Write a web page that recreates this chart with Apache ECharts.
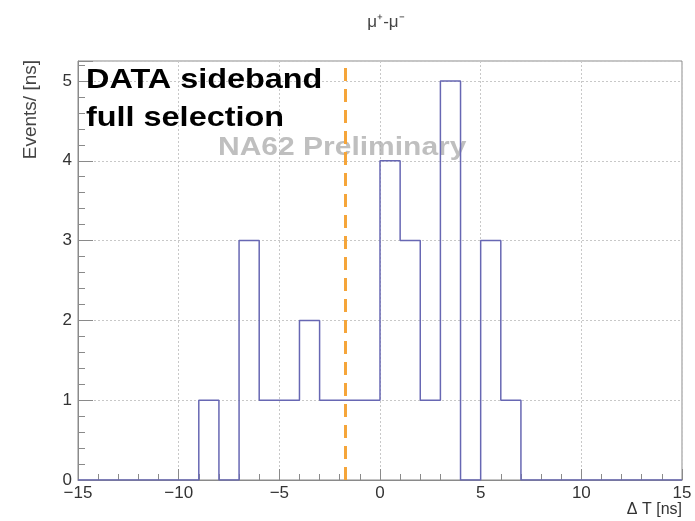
<!DOCTYPE html>
<html>
<head>
<meta charset="utf-8">
<script src="https://cdn.jsdelivr.net/npm/echarts@6/dist/echarts.min.js"></script>
<style>
  html, body { margin: 0; padding: 0; background: #fff; }
  #main { width: 695px; height: 521px; }
</style>
</head>
<body>
<div id="main"></div>
<script>
// bin low edges [ns], 1 ns wide
var binLow = [-15, -14, -13, -12, -11, -10, -9, -8, -7, -6, -5, -4, -3, -2, -1,
              0, 1, 2, 3, 4, 5, 6, 7, 8, 9, 10, 11, 12, 13, 14];
var binHigh = 15;
// events per bin
var counts = [0, 0, 0, 0, 0, 0, 1, 0, 3, 1, 1, 2, 1, 1, 1,
              4, 3, 1, 5, 0, 3, 1, 0, 0, 0, 0, 0, 0, 0, 0];
// dashed cut position
var cutValue = -1.75;
var xTicks = [-15, -10, -5, 0, 5, 10, 15];
var yTicks = [0, 1, 2, 3, 4, 5];

var histPoints = binLow.map(function (x, i) { return [x, counts[i]]; });
histPoints.push([binHigh, 0]);

var myChart = echarts.init(document.getElementById('main'));

var option = {
    animation: false,
    backgroundColor: '#fff',
    title: {
        text: 'μ⁺-μ⁻',
        left: 381, top: 9,
        textAlign: 'center',
        textStyle: { fontFamily: 'Liberation Sans', fontSize: 17, fontWeight: 'normal', color: '#444' }
    },
    grid: {
        left: 78, right: 13, top: 61, bottom: 41,
        show: true, borderColor: '#8a8a8a', borderWidth: 1, backgroundColor: 'transparent'
    },
    xAxis: {
        type: 'value',
        min: xTicks[0], max: xTicks[xTicks.length - 1], interval: 5,
        axisLine: { show: true, onZero: false, lineStyle: { color: '#8a8a8a', width: 1 } },
        axisTick: { show: true, inside: true, length: 11, lineStyle: { color: '#8a8a8a' } },
        minorTick: { show: true, splitNumber: 5, length: 6, lineStyle: { color: '#8a8a8a' } },
        splitLine: { show: true, lineStyle: { color: '#c8c8c8', type: [2, 2], width: 1 } },
        axisLabel: {
            fontFamily: 'Liberation Sans', fontSize: 17, color: '#333', margin: 5,
            formatter: function (v) { return v < 0 ? '\u2212' + Math.abs(v) : String(v); }
        }
    },
    yAxis: {
        type: 'value',
        min: 0, max: 5.25, interval: 1,
        axisLine: { show: true, onZero: false, lineStyle: { color: '#8a8a8a', width: 1 } },
        axisTick: { show: true, inside: true, length: 15, lineStyle: { color: '#8a8a8a' } },
        minorTick: { show: true, splitNumber: 5, length: 7, lineStyle: { color: '#8a8a8a' } },
        splitLine: { show: true, lineStyle: { color: '#c8c8c8', type: [2, 2], width: 1 } },
        axisLabel: {
            fontFamily: 'Liberation Sans', fontSize: 17, color: '#333', margin: 6,
            showMaxLabel: false,
            formatter: function (v) { return yTicks.indexOf(v) >= 0 ? String(v) : ''; }
        }
    },
    graphic: [
        {
            type: 'text', left: 218, top: 136, z: 1, scaleX: 1.2,
            style: { text: 'NA62 Preliminary', fontFamily: 'Liberation Sans', fontWeight: 'bold',
                     fontSize: 25, fill: 'rgba(170,170,170,0.75)' }
        },
        {
            type: 'text', left: 86, top: 67, z: 10, scaleX: 1.2,
            style: { text: 'DATA sideband', fontFamily: 'Liberation Sans', fontWeight: 'bold',
                     fontSize: 27, fill: '#000' }
        },
        {
            type: 'text', left: 86, top: 105, z: 10, scaleX: 1.2,
            style: { text: 'full selection', fontFamily: 'Liberation Sans', fontWeight: 'bold',
                     fontSize: 27, fill: '#000' }
        },
        {
            type: 'text', x: 21, y: 60, rotation: Math.PI / 2,
            style: { text: 'Events/ [ns]', fontFamily: 'Liberation Sans', fontSize: 19,
                     fill: '#444', align: 'right', verticalAlign: 'top' }
        },
        {
            type: 'text', right: 13, top: 502,
            style: { text: 'Δ T [ns]', fontFamily: 'Liberation Sans', fontSize: 16, fill: '#333' }
        }
    ],
    series: [
        {
            type: 'line',
            step: 'end',
            data: histPoints,
            showSymbol: false,
            z: 5,
            lineStyle: { color: '#6767b3', width: 1.5 },
            markLine: {
                silent: true,
                symbol: 'none',
                label: { show: false },
                lineStyle: { color: '#f5a53a', width: 3, type: [13, 8] },
                data: [{ xAxis: cutValue }]
            }
        }
    ]
};

myChart.setOption(option);
window.onresize = function () { myChart.resize(); };
</script>
</body>
</html>
